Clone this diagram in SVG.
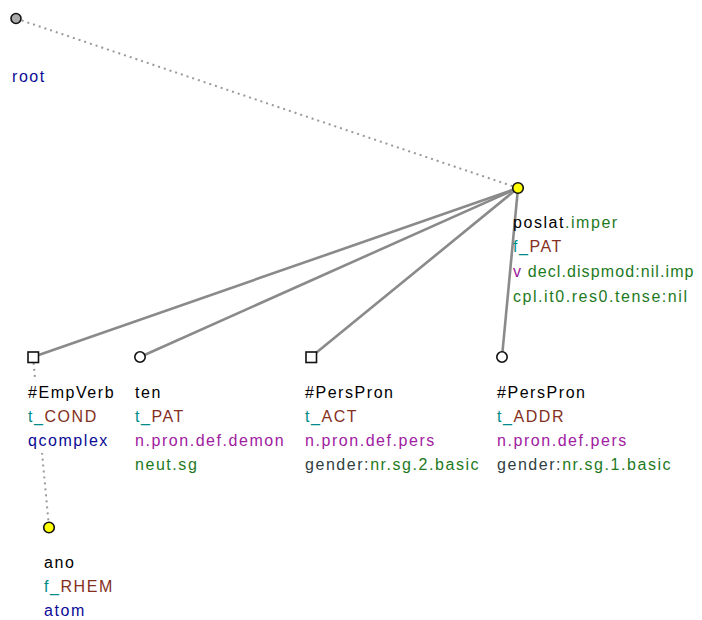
<svg xmlns="http://www.w3.org/2000/svg" width="702" height="620" viewBox="0 0 702 620">
<style>
text{font-family:"Liberation Sans",Arial,sans-serif;font-size:16px;letter-spacing:1.55px}
.k{fill:#000}.tl{fill:#008b8b}.br{fill:#84301e}.nv{fill:#0a0a96}.pu{fill:#a020a0}.gr{fill:#1e7a1e}.dg{fill:#2f3f3f}
.e{stroke:#8a8a8a;stroke-width:2.6;fill:none}
.d{stroke:#999;stroke-width:2;stroke-dasharray:2 4;fill:none}
.nd{stroke:#111;stroke-width:1.6}
</style>
<rect width="702" height="620" fill="#fff"/>
<g id="connectors">
<line class="d" x1="16" y1="18.5" x2="518" y2="188"/>
<line class="d" x1="33" y1="357" x2="49" y2="527"/>
<line class="e" x1="518" y1="188" x2="33" y2="357"/>
<line class="e" x1="518" y1="188" x2="140" y2="357"/>
<line class="e" x1="518" y1="188" x2="311" y2="357"/>
<line class="e" x1="518" y1="188" x2="502" y2="357"/>
</g>
<g id="root">
<circle class="nd" cx="16" cy="18.5" r="5" fill="#aaa"/>
<text x="12" y="82" class="nv">root</text>
</g>
<g id="poslat">
<circle class="nd" cx="518" cy="188" r="5.3" fill="#ffff00"/>
<text x="513" y="228"><tspan class="k">poslat</tspan><tspan class="gr">.imper</tspan></text>
<text x="513" y="252"><tspan class="tl">f_</tspan><tspan class="br">PAT</tspan></text>
<text x="513" y="277" style="letter-spacing:1.1px"><tspan class="pu">v</tspan><tspan class="gr"> decl.dispmod:nil.imp</tspan></text>
<text x="513" y="302" class="gr">cpl.it0.res0.tense:nil</text>
</g>
<g id="empverb">
<rect class="nd" x="28" y="352" width="10.5" height="10.5" fill="#fff"/>
<rect x="27" y="381" width="92" height="72" fill="#fff"/>
<text x="28" y="398" class="k">#EmpVerb</text>
<text x="28" y="422"><tspan class="tl">t_</tspan><tspan class="br">COND</tspan></text>
<text x="28" y="446" class="nv">qcomplex</text>
</g>
<g id="ten">
<circle class="nd" cx="140" cy="357" r="5.2" fill="#fff"/>
<text x="135" y="398" class="k">ten</text>
<text x="135" y="422"><tspan class="tl">t_</tspan><tspan class="br">PAT</tspan></text>
<text x="135" y="446" class="pu">n.pron.def.demon</text>
<text x="135" y="470" class="gr">neut.sg</text>
</g>
<g id="perspron1">
<rect class="nd" x="306" y="352" width="10.5" height="10.5" fill="#fff"/>
<text x="305" y="398" class="k">#PersPron</text>
<text x="305" y="422"><tspan class="tl">t_</tspan><tspan class="br">ACT</tspan></text>
<text x="305" y="446" class="pu">n.pron.def.pers</text>
<text x="305" y="470"><tspan class="dg">gender:</tspan><tspan class="gr">nr.sg.2.basic</tspan></text>
</g>
<g id="perspron2">
<circle class="nd" cx="502" cy="357" r="5.2" fill="#fff"/>
<text x="497" y="398" class="k">#PersPron</text>
<text x="497" y="422"><tspan class="tl">t_</tspan><tspan class="br">ADDR</tspan></text>
<text x="497" y="446" class="pu">n.pron.def.pers</text>
<text x="497" y="470"><tspan class="dg">gender:</tspan><tspan class="gr">nr.sg.1.basic</tspan></text>
</g>
<g id="ano">
<circle class="nd" cx="49" cy="527.5" r="5.3" fill="#ffff00"/>
<text x="44" y="568" class="k">ano</text>
<text x="44" y="592"><tspan class="tl">f_</tspan><tspan class="br">RHEM</tspan></text>
<text x="44" y="616" class="nv">atom</text>
</g>
</svg>
